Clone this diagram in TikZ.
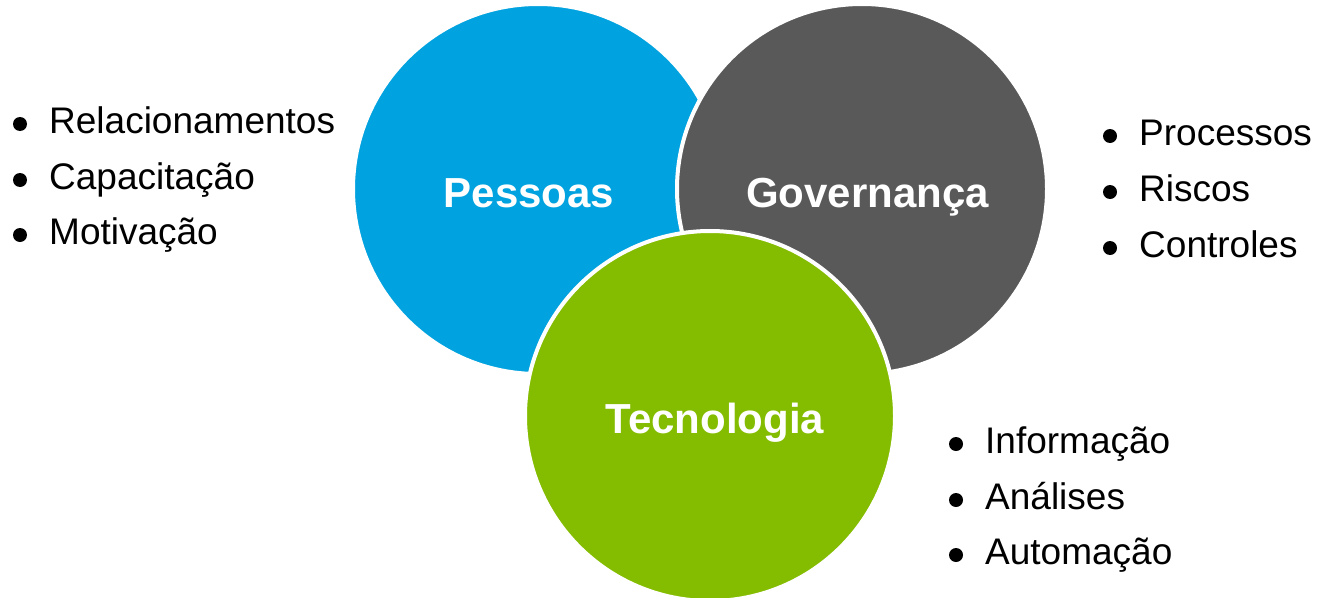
\documentclass[tikz,border=0pt]{standalone}
\usepackage{fontspec}
\setmainfont{Liberation Sans}
\definecolor{cblue}{RGB}{0,162,223}
\definecolor{cgray}{RGB}{89,89,89}
\definecolor{cgreen}{RGB}{132,188,0}
\tikzset{
  bigcirc/.style={circle, minimum size=370pt, inner sep=0pt, draw=white, line width=4pt},
  title/.style={text=white, font=\fontsize{42}{50}\selectfont\bfseries, inner sep=0pt, anchor=base},
  item/.style={text=black, font=\fontsize{37}{44}\selectfont, inner sep=0pt, anchor=base west},
  dot/.style={circle, fill=black, minimum size=14pt, inner sep=0pt}
}
\begin{document}
\begin{tikzpicture}[x=1pt,y=-1pt]
\useasboundingbox (0,0) rectangle (1317,597);
\begin{scope}
\clip (0,0) rectangle (1317,597);
\node[bigcirc, fill=cblue] (pess) at (538,189) {};
\node[bigcirc, fill=cgray] (gov) at (862,189) {};
\node[bigcirc, fill=cgreen] (tec) at (710,416) {};
\end{scope}
\node[title] (tpess) at (529,207) {Pessoas};
\node[title] (tgov) at (867.5,207) {Governança};
\node[title] (ttec) at (715,433) {Tecnologia};
% left list
\node[dot] (b1) at (20,124) {};
\node[item] (l1) at (49,133) {Relacionamentos};
\node[dot] (b2) at (20,180) {};
\node[item] (l2) at (49,189) {Capacitação};
\node[dot] (b3) at (20,235) {};
\node[item] (l3) at (49,244) {Motivação};
% right list
\node[dot] (b4) at (1110,136) {};
\node[item] (r1) at (1139,145) {Processos};
\node[dot] (b5) at (1110,192) {};
\node[item] (r2) at (1139,201) {Riscos};
\node[dot] (b6) at (1110,248) {};
\node[item] (r3) at (1139,257) {Controles};
% bottom list
\node[dot] (b7) at (956,444) {};
\node[item] (t1) at (985,453) {Informação};
\node[dot] (b8) at (956,500) {};
\node[item] (t2) at (985,509) {Análises};
\node[dot] (b9) at (956,555) {};
\node[item] (t3) at (985,564) {Automação};
\end{tikzpicture}
\end{document}
